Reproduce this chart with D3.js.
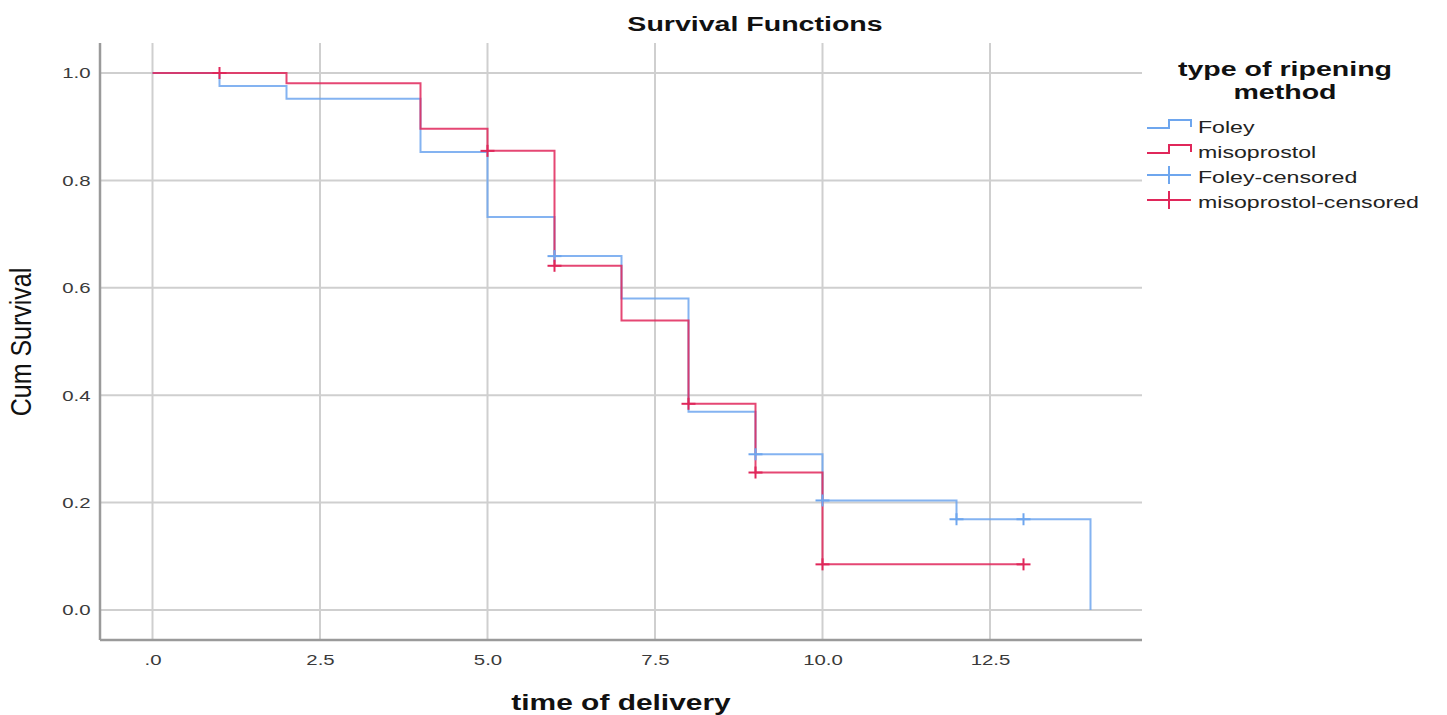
<!DOCTYPE html>
<html>
<head>
<meta charset="utf-8">
<script src="https://cdn.jsdelivr.net/npm/d3@7"></script>
<style>
  body { margin: 0; background: #fff; }
  text { font-family: Arial, "Liberation Sans", sans-serif; }
</style>
</head>
<body>
<div id="chart-area"></div>
<script>
// survival curves (time, cumulative survival)
var foleyTimes = [0, 1, 2, 4, 5, 6, 7, 8, 9, 10, 12, 14];
var foleySurv  = [1.0, 0.976, 0.952, 0.853, 0.732, 0.659, 0.580, 0.369, 0.290, 0.204, 0.169, 0.0];
var misoTimes  = [0, 2, 4, 5, 6, 7, 8, 9, 10, 13];
var misoSurv   = [1.0, 0.981, 0.896, 0.855, 0.641, 0.539, 0.384, 0.256, 0.085, 0.085];

// censored observations
var foleyCensTimes = [6, 9, 10, 12, 13];
var foleyCensSurv  = [0.659, 0.290, 0.204, 0.169, 0.169];
var misoCensTimes  = [1, 5, 6, 8, 9, 10, 13];
var misoCensSurv   = [1.0, 0.855, 0.641, 0.384, 0.256, 0.085, 0.085];

var xTicks = [0, 2.5, 5, 7.5, 10, 12.5];
var yTicks = [0, 0.2, 0.4, 0.6, 0.8, 1.0];
var legendLabels = ["Foley", "misoprostol", "Foley-censored", "misoprostol-censored"];

var blue = "#6ea6ee";
var red = "#e0275a";
var stretch = 1.36;   // the original export is wider than it is tall

var width = 1447, height = 715;
var plot = {left: 100, right: 1142, top: 43, bottom: 640};

var svg = d3.select("#chart-area")
    .append("svg")
    .attr("width", width)
    .attr("height", height);

var x = d3.scaleLinear()
    .domain([0, 12.5])
    .range([152.5, 990]);

var y = d3.scaleLinear()
    .domain([0, 1])
    .range([610, 73]);

// text placed at (tx, ty) and stretched horizontally
function label(parent, tx, ty, str, size, bold, anchor, fill) {
    return parent.append("text")
        .attr("transform", "translate(" + tx + "," + ty + ") scale(" + stretch + ",1)")
        .attr("text-anchor", anchor || "start")
        .attr("font-size", size + "px")
        .attr("font-weight", bold ? "bold" : "normal")
        .attr("fill", fill || "#111")
        .text(str);
}

// grid lines
var grid = svg.append("g").attr("class", "grid");
grid.selectAll("line.v").data(xTicks).enter()
    .append("line")
    .attr("class", "v")
    .attr("x1", (d) => x(d)).attr("x2", (d) => x(d))
    .attr("y1", plot.top).attr("y2", plot.bottom)
    .attr("stroke", "#cfcfcf")
    .attr("stroke-width", 2);
grid.selectAll("line.h").data(yTicks).enter()
    .append("line")
    .attr("class", "h")
    .attr("x1", plot.left).attr("x2", plot.right)
    .attr("y1", (d) => y(d)).attr("y2", (d) => y(d))
    .attr("stroke", "#cfcfcf")
    .attr("stroke-width", 2);

// axes
var xAxis = d3.axisBottom(x)
    .tickValues(xTicks)
    .tickSize(0)
    .tickPadding(14)
    .tickFormat((d) => d === 0 ? ".0" : d3.format(".1f")(d));
var gx = svg.append("g")
    .attr("transform", "translate(0," + plot.bottom + ")")
    .call(xAxis);
gx.select(".domain").remove();
gx.selectAll("text")
    .attr("font-size", "15px")
    .attr("fill", "#3a3a3a")
    .attr("transform", "scale(" + stretch + ",1)");

var yAxis = d3.axisLeft(y)
    .tickValues(yTicks)
    .tickSize(0)
    .tickPadding(7)
    .tickFormat(d3.format(".1f"));
var gy = svg.append("g")
    .attr("transform", "translate(" + plot.left + ",0)")
    .call(yAxis);
gy.select(".domain").remove();
gy.selectAll("text")
    .attr("font-size", "15px")
    .attr("fill", "#3a3a3a")
    .attr("transform", "scale(" + stretch + ",1)");

svg.append("line")
    .attr("x1", plot.left).attr("x2", plot.left)
    .attr("y1", plot.top).attr("y2", plot.bottom)
    .attr("stroke", "#9a9a9a").attr("stroke-width", 2.5);
svg.append("line")
    .attr("x1", plot.left).attr("x2", plot.right)
    .attr("y1", plot.bottom).attr("y2", plot.bottom)
    .attr("stroke", "#9a9a9a").attr("stroke-width", 2.5);

// step curves
var step = d3.line()
    .x((d) => x(d[0]))
    .y((d) => y(d[1]))
    .curve(d3.curveStepAfter);

var series = [
    {times: foleyTimes, surv: foleySurv, color: blue},
    {times: misoTimes, surv: misoSurv, color: red}
];
series.forEach((s) => {
    var pts = s.times.map((t, i) => [t, s.surv[i]]);
    svg.append("path")
        .attr("d", step(pts))
        .attr("fill", "none")
        .attr("stroke", s.color)
        .attr("stroke-width", 2)
        .attr("stroke-opacity", 0.85);
});

// censor marks
var cens = [
    {times: foleyCensTimes, surv: foleyCensSurv, color: blue},
    {times: misoCensTimes, surv: misoCensSurv, color: red}
];
cens.forEach((c) => {
    var g = svg.append("g");
    c.times.forEach((t, i) => {
        var cx = x(t), cy = y(c.surv[i]);
        g.append("line")
            .attr("x1", cx - 7).attr("x2", cx + 7)
            .attr("y1", cy).attr("y2", cy)
            .attr("stroke", c.color).attr("stroke-width", 2);
        g.append("line")
            .attr("x1", cx).attr("x2", cx)
            .attr("y1", cy - 6).attr("y2", cy + 6)
            .attr("stroke", c.color).attr("stroke-width", 2);
    });
});

// title
label(svg, 755, 31, "Survival Functions", 21, true, "middle");

// x axis label
label(svg, 621, 710, "time of delivery", 22, true, "middle");

// y axis label
svg.append("text")
    .attr("transform", "translate(31,342) scale(1.15,1) rotate(-90)")
    .attr("text-anchor", "middle")
    .attr("font-size", "25px")
    .attr("fill", "#111")
    .text("Cum Survival");

// legend
var legend = svg.append("g");
label(legend, 1285, 76, "type of ripening", 21, true, "middle");
label(legend, 1285, 99, "method", 21, true, "middle");

var legendColors = [blue, red, blue, red];
legendLabels.forEach((lab, i) => {
    var ly = 127 + i * 25;
    var col = legendColors[i];
    if (i < 2) {
        legend.append("path")
            .attr("d", "M1147," + (ly + 1) + "H1169V" + (ly - 7) + "H1191V" + ly)
            .attr("fill", "none")
            .attr("stroke", col)
            .attr("stroke-width", 2);
    } else {
        legend.append("line")
            .attr("x1", 1147).attr("x2", 1191)
            .attr("y1", ly - 2).attr("y2", ly - 2)
            .attr("stroke", col).attr("stroke-width", 2);
        legend.append("line")
            .attr("x1", 1169).attr("x2", 1169)
            .attr("y1", ly - 11).attr("y2", ly + 7)
            .attr("stroke", col).attr("stroke-width", 2);
    }
    label(legend, 1198, ly + 6, lab, 17, false, "start", "#222");
});
</script>
</body>
</html>
